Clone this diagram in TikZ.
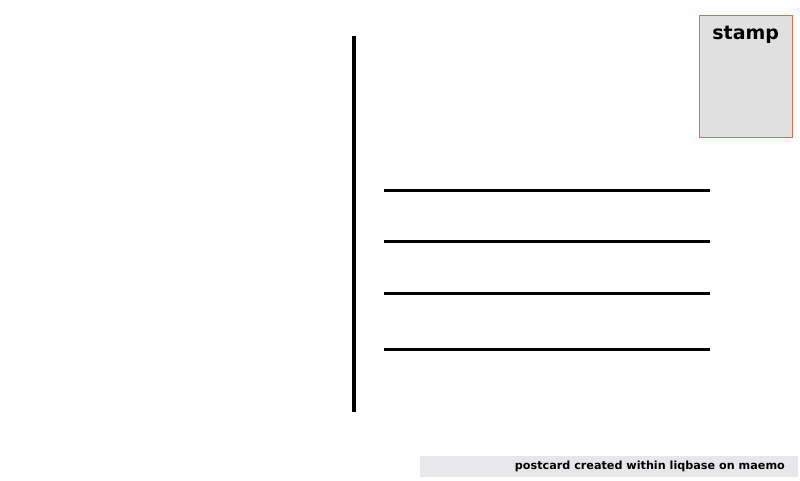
\documentclass[tikz,border=0pt]{standalone}
\usepackage{fontspec}
\setmainfont{DejaVu Sans}
\usepackage{xcolor}
\usepackage{tikz}
\usetikzlibrary{positioning}
\definecolor{stampfill}{HTML}{E0E0E0}
\definecolor{stampedge}{HTML}{E86A4E}
\definecolor{barfill}{HTML}{E7E6E9}

\begin{document}
\begin{tikzpicture}[
    x=1pt, y=-1pt,
    stampbox/.style={rectangle, draw=stampedge, fill=stampfill, line width=1.4pt, minimum width=93pt, minimum height=122pt, anchor=north west, inner sep=0pt},
    footbar/.style={rectangle, fill=barfill, minimum width=378pt, minimum height=21pt, anchor=north west, inner sep=0pt},
    addrline/.style={line width=3pt}
]
    \useasboundingbox (0,0) rectangle (800,480);

    % stamp
    \node[stampbox] (stamp) at (698.5,14.5) {};
    \node[font=\bfseries\fontsize{19}{22}\selectfont, below=8pt of stamp.north] (stamptxt) {stamp};

    % divider
    \draw[line width=4pt] (354,36) -- (354,412);

    % address lines
    \foreach \y in {190,241,293,349} {
        \draw[addrline] (384,\y) -- (710,\y);
    }

    % footer
    \node[footbar] (foot) at (420,456) {};
    \node[font=\bfseries\fontsize{11.2}{13}\selectfont, anchor=east] (foottxt) at ([xshift=-10pt]foot.east) {postcard created within liqbase on maemo};
\end{tikzpicture}
\end{document}
